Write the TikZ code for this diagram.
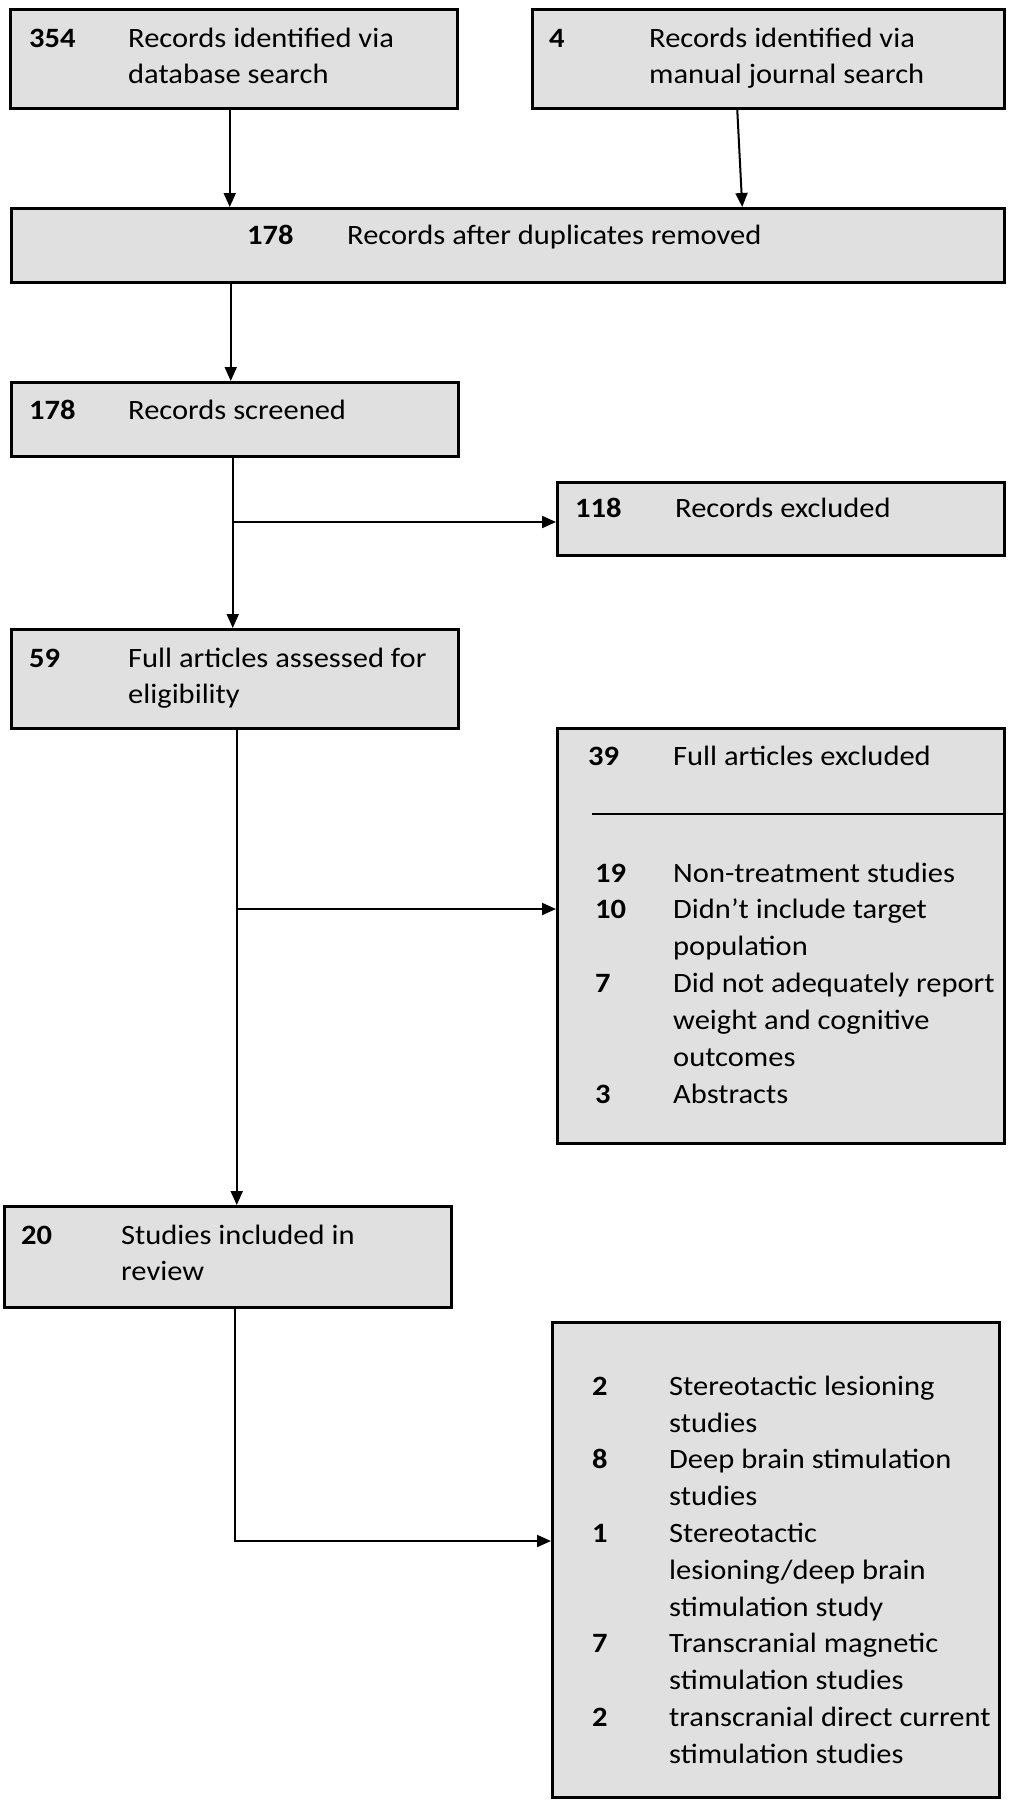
\documentclass[tikz,border=0pt]{standalone}
\usepackage{fontspec}
\setmainfont{Carlito}[FakeStretch=1.09]
\usetikzlibrary{arrows.meta,calc}
\tikzset{
  box/.style={draw=black, line width=2.5pt, fill=boxgray, anchor=north west, inner sep=0pt},
  txt/.style={anchor=base west, inner sep=0pt, font=\fontsize{28}{37}\selectfont},
  num/.style={anchor=base west, inner sep=0pt, font=\fontsize{28}{37}\selectfont\bfseries},
  arr/.style={line width=2pt, -{Triangle[length=14pt,width=12pt]}},
  ln/.style={line width=2pt}
}
\definecolor{boxgray}{RGB}{224,224,224}
\begin{document}
\begin{tikzpicture}[x=1pt,y=-1pt]
\useasboundingbox[fill=white] (0,0) rectangle (1012,1800);
% boxes
\node[box, minimum width=447pt, minimum height=99pt] (A) at (9,8) {};
\node[box, minimum width=472pt, minimum height=99pt] (B) at (531,8) {};
\node[box, minimum width=993pt, minimum height=74pt] (C) at (10,207) {};
\node[box, minimum width=447pt, minimum height=74pt] (D) at (10,381) {};
\node[box, minimum width=447pt, minimum height=73pt] (E) at (556,481) {};
\node[box, minimum width=447pt, minimum height=99pt] (F) at (10,628) {};
\node[box, minimum width=447pt, minimum height=415pt] (G) at (556,727) {};
\node[box, minimum width=447pt, minimum height=101pt] (H) at (3,1205) {};
\node[box, minimum width=447pt, minimum height=475pt] (I) at (551,1321) {};
% texts
\node[num] (A0) at (29,47) {354};
\node[txt] (A1) at (128,47) {Records identified via};
\node[txt] (A2) at (128,83) {database search};
\node[num] (B0) at (549,47) {4};
\node[txt] (B1) at (649,47) {Records identified via};
\node[txt] (B2) at (649,83) {manual journal search};
\node[num] (C0) at (247,244) {178};
\node[txt] (C1) at (347,244) {Records after duplicates removed};
\node[num] (D0) at (29,419) {178};
\node[txt] (D1) at (128,419) {Records screened};
\node[num] (E0) at (575,517) {118};
\node[txt] (E1) at (675,517) {Records excluded};
\node[num] (F0) at (29,667) {59};
\node[txt] (F1) at (128,667) {Full articles assessed for};
\node[txt] (F2) at (128,703) {eligibility};
\node[num] (G0) at (588,765) {39};
\node[txt] (G1) at (673,765) {Full articles excluded};
\node[num] (G2n) at (595,882) {19};
\node[txt] (G2) at (673,882) {Non-treatment studies};
\node[num] (G3n) at (595,918) {10};
\node[txt] (G3) at (673,918) {Didn’t include target};
\node[txt] (G4) at (673,955) {population};
\node[num] (G5n) at (595,992) {7};
\node[txt] (G5) at (673,992) {Did not adequately report};
\node[txt] (G6) at (673,1029) {weight and cognitive};
\node[txt] (G7) at (673,1066) {outcomes};
\node[num] (G8n) at (595,1103) {3};
\node[txt] (G8) at (673,1103) {Abstracts};
\node[num] (H0) at (21,1244) {20};
\node[txt] (H1) at (121,1244) {Studies included in};
\node[txt] (H2) at (121,1280) {review};
\node[num] (I1n) at (592,1395) {2};
\node[txt] (I1) at (669,1395) {Stereotactic lesioning};
\node[txt] (I2) at (669,1432) {studies};
\node[num] (I3n) at (592,1468) {8};
\node[txt] (I3) at (669,1468) {Deep brain stimulation};
\node[txt] (I4) at (669,1505) {studies};
\node[num] (I5n) at (592,1542) {1};
\node[txt] (I5) at (669,1542) {Stereotactic};
\node[txt] (I6) at (669,1579) {lesioning/deep brain};
\node[txt] (I7) at (669,1616) {stimulation study};
\node[num] (I8n) at (592,1652) {7};
\node[txt] (I8) at (669,1652) {Transcranial magnetic};
\node[txt] (I9) at (669,1689) {stimulation studies};
\node[num] (I10n) at (592,1726) {2};
\node[txt] (I10) at (669,1726) {transcranial direct current};
\node[txt] (I11) at (669,1763) {stimulation studies};
% separator in G
\coordinate (sepL) at (592,814);
\draw[ln] (sepL) -- (sepL -| G.east);
% connectors
\draw[arr] ([xshift=-4pt]A.south) -- ([xshift=-4pt]A.south |- C.north);
\draw[arr] ([xshift=-31pt]B.south) -- ([xshift=-26pt]B.south |- C.north);
\draw[arr] ([xshift=-4pt]D.north |- C.south) -- ([xshift=-4pt]D.north);
\draw[arr] ([xshift=-2pt]D.south) -- ([xshift=-2pt]F.north);
\coordinate (eIn) at (556,522);
\draw[arr] ([xshift=-2pt]D.south |- eIn) -- (eIn);
\draw[arr] ([xshift=2pt]F.south) -- ([xshift=2pt]F.south |- H.north);
\coordinate (gIn) at (556,909);
\draw[arr] ([xshift=2pt]F.south |- gIn) -- (gIn);
\coordinate (iIn) at (551,1541);
\draw[arr] ([xshift=7pt]H.south) |- (iIn);
\end{tikzpicture}
\end{document}
